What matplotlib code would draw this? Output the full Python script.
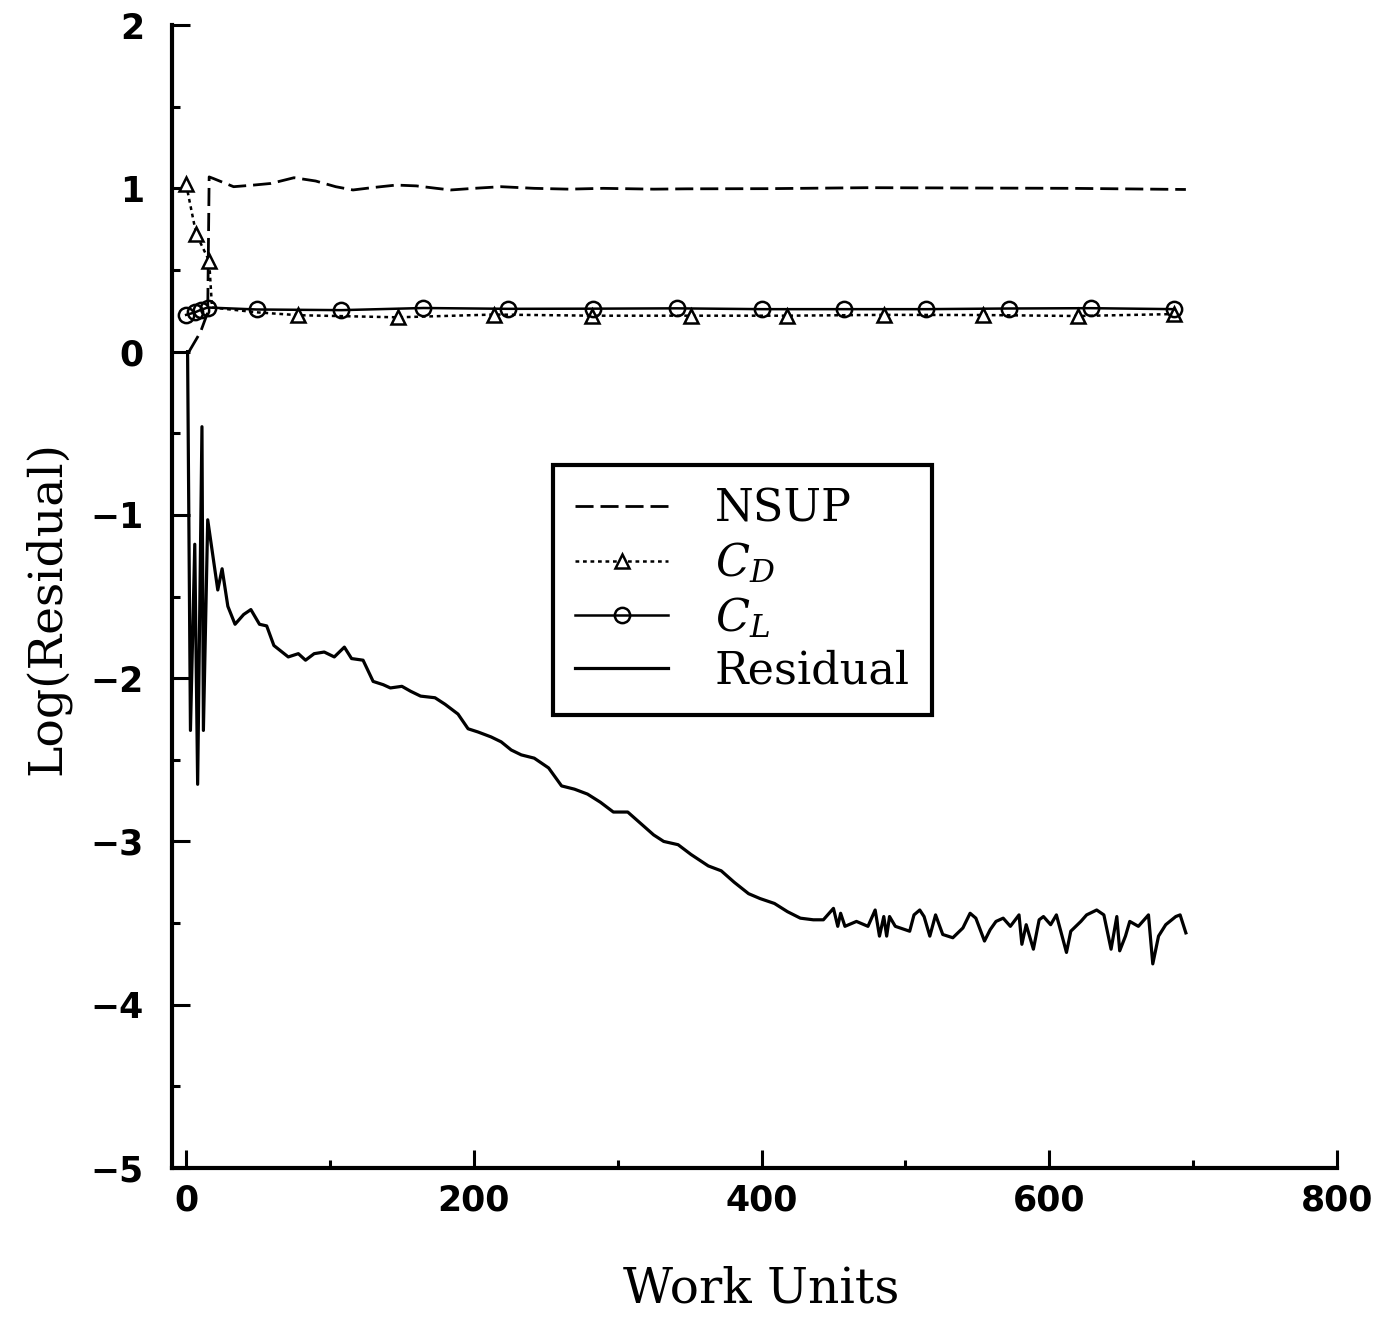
import matplotlib
matplotlib.use("Agg")
import matplotlib.pyplot as plt
from matplotlib.ticker import MultipleLocator

# values (x: work units, y: log10 of quantity)
nsup_x = [2, 10, 15, 16, 19, 33, 47, 59, 75, 90, 104, 116, 130, 146, 160, 174,
          184, 200, 219, 242, 266, 290, 325, 348, 404, 474, 545, 615, 695]
nsup_y = [0.0, 0.12, 0.24, 1.07, 1.06, 1.01, 1.02, 1.03, 1.065, 1.045, 1.01, 0.99,
          1.005, 1.02, 1.015, 1.0, 0.99, 1.0, 1.01, 1.0, 0.995, 1.0, 0.995, 0.997,
          0.998, 1.004, 1.002, 1.0, 0.993]

cd_x = [0, 7, 16, 18, 50, 78, 147, 214, 282, 351, 418, 485, 554, 620, 687]
cd_y = [1.025, 0.72, 0.556, 0.27, 0.24, 0.223, 0.21, 0.227, 0.22, 0.22, 0.22,
        0.225, 0.224, 0.218, 0.23]
cd_marks = [0, 1, 2, 5, 6, 7, 8, 9, 10, 11, 12, 13, 14]

cl_x = [0, 6, 10, 15, 49, 108, 165, 224, 283, 341, 400, 457, 514, 572, 629, 687]
cl_y = [0.225, 0.24, 0.255, 0.27, 0.258, 0.254, 0.267, 0.262, 0.263, 0.265, 0.26,
        0.26, 0.26, 0.264, 0.266, 0.26]

res_x = [1, 3, 6, 8, 11, 12, 15, 22, 25, 29, 34, 40, 45, 51, 56, 61, 71, 78, 83,
         89, 96, 103, 110, 115, 123, 130, 137, 142, 150, 156, 163, 173, 180, 189,
         196, 203, 212, 219, 226, 233, 242, 252, 261, 270, 279, 288, 297, 307, 316,
         325, 332, 342, 351, 363, 372, 381, 391, 399, 409, 418, 427, 436, 443, 450,
         453, 455, 458, 466, 474, 479, 482, 485, 487, 489, 493, 503, 506, 510, 513,
         517, 521, 526, 533, 540, 545, 549, 555, 559, 563, 568, 573, 579, 581, 584,
         589, 593, 596, 601, 605, 612, 615, 622, 626, 633, 638, 643, 647, 649, 653,
         656, 662, 669, 672, 676, 681, 688, 691, 695]
res_y = [0.0, -2.32, -1.18, -2.65, -0.46, -2.32, -1.03, -1.46, -1.33, -1.56, -1.67,
         -1.61, -1.58, -1.67, -1.68, -1.80, -1.87, -1.85, -1.89, -1.85, -1.84, -1.87,
         -1.81, -1.88, -1.89, -2.02, -2.04, -2.06, -2.05, -2.08, -2.11, -2.12, -2.16,
         -2.22, -2.31, -2.33, -2.36, -2.39, -2.44, -2.47, -2.49, -2.55, -2.66, -2.68,
         -2.71, -2.76, -2.82, -2.82, -2.89, -2.96, -3.00, -3.02, -3.08, -3.15, -3.18,
         -3.25, -3.32, -3.35, -3.38, -3.43, -3.47, -3.48, -3.48, -3.41, -3.52, -3.44,
         -3.52, -3.49, -3.52, -3.42, -3.58, -3.46, -3.58, -3.46, -3.52, -3.55, -3.45,
         -3.42, -3.46, -3.58, -3.45, -3.57, -3.59, -3.53, -3.44, -3.47, -3.61, -3.54,
         -3.49, -3.47, -3.52, -3.45, -3.63, -3.51, -3.66, -3.48, -3.46, -3.51, -3.45,
         -3.68, -3.55, -3.49, -3.45, -3.42, -3.45, -3.66, -3.46, -3.67, -3.58, -3.49,
         -3.52, -3.45, -3.75, -3.58, -3.51, -3.46, -3.45, -3.56]

plt.rcParams['mathtext.fontset'] = 'dejavuserif'
serif = 'DejaVu Serif'

fig = plt.figure(figsize=(13.74, 13.19), dpi=100)
ax = fig.add_axes([0.125, 0.1145, 0.848, 0.8665])

ax.plot(nsup_x, nsup_y, color='k', lw=2.0, dashes=(6.5, 2.5), label='NSUP')
ax.plot(cd_x, cd_y, color='k', lw=1.8, dashes=(1.5, 1.5), marker='^', ms=10,
        mfc='white', mec='k', mew=1.8, markevery=cd_marks, label='$C_D$')
ax.plot(cl_x, cl_y, color='k', lw=1.8, marker='o', ms=11, mfc='none', mec='k',
        mew=1.8, label='$C_L$')
ax.plot(res_x, res_y, color='k', lw=2.3, label='Residual')

ax.set_xlim(-10, 800)
ax.set_ylim(-5, 2)
ax.xaxis.set_major_locator(MultipleLocator(200))
ax.xaxis.set_minor_locator(MultipleLocator(100))
ax.yaxis.set_major_locator(MultipleLocator(1))
ax.yaxis.set_minor_locator(MultipleLocator(0.5))

for s in ['top', 'right']:
    ax.spines[s].set_visible(False)
for s in ['left', 'bottom']:
    ax.spines[s].set_linewidth(3)

ax.tick_params(which='major', direction='in', length=13, width=2.2, labelsize=25)
ax.tick_params(which='minor', direction='in', length=6, width=2.2)
ax.tick_params(axis='y', which='major', pad=20)
ax.tick_params(axis='x', which='major', pad=11)
for lab in ax.get_xticklabels() + ax.get_yticklabels():
    lab.set_fontweight('bold')

ax.set_ylabel('Log(Residual)', family=serif, size=34)
ax.yaxis.set_label_coords(-0.087, 0.49)
ax.set_xlabel('Work Units', family=serif, size=35)
ax.xaxis.set_label_coords(0.506, -0.085)

leg = ax.legend(loc='upper left', bbox_to_anchor=(0.327, 0.615), frameon=True,
                fancybox=False, edgecolor='k', framealpha=1, borderaxespad=0,
                prop={'family': serif, 'size': 32}, handlelength=2.1,
                handletextpad=1.05, borderpad=0.5, labelspacing=0.22)
leg.get_frame().set_linewidth(3)

fig.savefig('out.png', dpi=100, facecolor='white')
